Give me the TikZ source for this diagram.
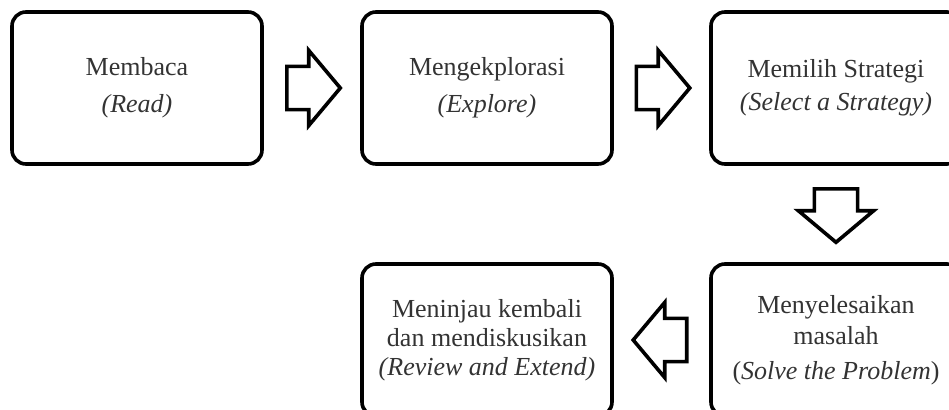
\documentclass[tikz,border=0pt]{standalone}
\usepackage{fontspec}
\setmainfont{Liberation Serif}
\usetikzlibrary{shapes.arrows,calc}

\tikzstyle{step box}=[draw,black,rectangle,rounded corners=7pt,line width=1.8pt,minimum width=125pt,minimum height=76pt,inner sep=0pt,align=center,text=black!80,font=\fontsize{13}{14.5}\selectfont]
\tikzstyle{block arrow}=[draw,black,single arrow,line width=1.8pt,inner xsep=0pt,inner ysep=9.9pt,single arrow head extend=8pt,single arrow tip angle=100,minimum height=26.75pt,anchor=tail]

\begin{document}
\begin{tikzpicture}[x=0.5pt,y=0.5pt]
    \clip (0,0) rectangle (949,409);

    \node (read)[step box] at (137,321) {Membaca\\[4pt] \textit{(Read)}};
    \node (explore)[step box] at (487,321) {Mengekplorasi\\[4pt] \textit{(Explore)}};
    \node (strategy)[step box] at (836,321) {Memilih Strategi\\[2pt] \textit{(Select a Strategy)}};
    \node (solve)[step box] at (836,69) {Menyelesaikan\\[1pt] masalah\\[3pt] (\textit{Solve the Problem})};
    \node (review)[step box] at (487,69) {Meninjau kembali\\ dan mendiskusikan\\ \textit{(Review and Extend)}};

    \node (a1)[block arrow] at ($(read.east)!0.5!(explore.west)-(27,0)$) {};
    \node (a2)[block arrow] at ($(explore.east)!0.5!(strategy.west)-(27,0)$) {};
    \node (a3)[block arrow,rotate=-90] at ($(strategy.south)!0.5!(solve.north)+(0,27)$) {};
    \node (a4)[block arrow,rotate=180] at ($(solve.west)!0.5!(review.east)+(27,0)$) {};
\end{tikzpicture}
\end{document}
